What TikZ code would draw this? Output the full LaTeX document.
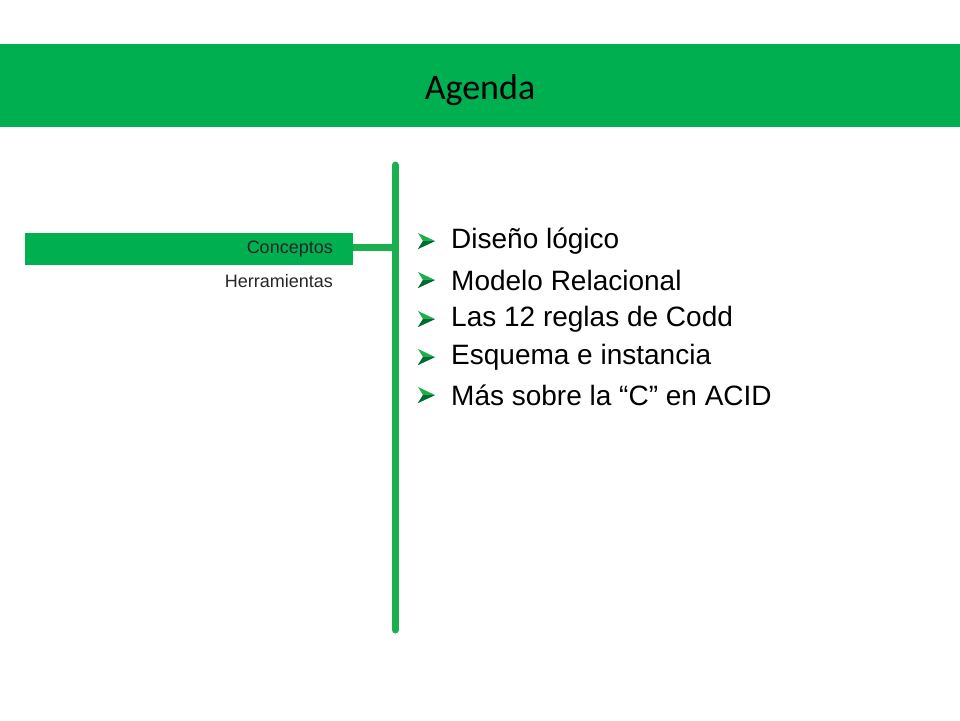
\documentclass[tikz,border=0pt]{standalone}
\usepackage{fontspec}
\setmainfont{Liberation Sans}
\newfontfamily\titlefont{Carlito}
\definecolor{band}{HTML}{00B050}
\definecolor{bar}{HTML}{1BB04E}
\begin{document}
\begin{tikzpicture}[x=1pt,y=-1pt,
  item/.style={anchor=west,font=\fontsize{28}{30}\selectfont,inner sep=0pt},
  side/.style={anchor=east,font=\fontsize{18}{20}\selectfont,inner sep=0pt},
  bul/.pic={\fill[bar] (-8,-8) -- (9,0) -- (-8,8) -- (-3,0) -- cycle;
            \fill[band!60!black] (-8,8) -- (9,0) -- (-3,0) -- cycle;}]
\useasboundingbox (0,0) rectangle (960,720);
\fill[band] (0,44) rectangle (960,127);
\node[font=\titlefont\fontsize{36}{40}\selectfont] (t) at (480,90) {Agenda};
\coordinate (vt) at (395,165);
\coordinate (vb) at (395,630);
\draw[bar,line width=7pt,line cap=round] (vt) -- (vb);
\node[fill=band,minimum width=328pt,minimum height=32pt,inner sep=0pt] (box) at (189,249) {};
\node[side,text=black!85] (c) at (333,249) {Conceptos};
\node[side,text=black!85] (h) at (333,281) {Herramientas};
\coordinate (j) at (395,247);
\draw[bar,line width=7pt] (box.east |- j) -- (j);
\foreach \y/\t in {241/Diseño lógico,280/Modelo Relacional,319/Las 12 reglas de Codd,357/Esquema e instancia,395/Más sobre la “C” en ACID}{
  \pic at (426,\y) {bul};
  \node[item] at (451,\y) {\t};
}
\end{tikzpicture}
\end{document}
